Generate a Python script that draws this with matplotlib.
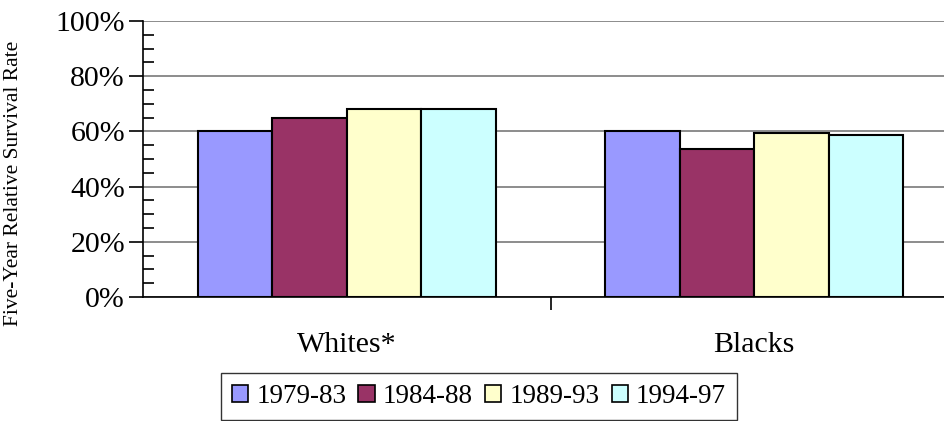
import matplotlib
matplotlib.use("Agg")
import matplotlib.pyplot as plt
import numpy as np

groups = ["Whites*", "Blacks"]
periods = ["1979-83", "1984-88", "1989-93", "1994-97"]
whites = [60.0, 64.8, 68.1, 68.1]
blacks = [60.0, 53.5, 59.3, 58.7]
colors = ["#9999FF", "#993366", "#FFFFCC", "#CCFFFF"]


def main():
    plt.rcParams['font.family'] = ['Liberation Serif', 'DejaVu Serif']

    fig = plt.figure(figsize=(9.45, 4.21), dpi=100)
    ax = fig.add_axes([143 / 945, 124 / 421, 815 / 945, 276 / 421])

    values = np.array([whites, blacks])
    x = np.arange(len(groups))
    width = 0.183

    # grid lines first so the bars cover them
    ax.set_axisbelow(True)
    ax.yaxis.grid(True, color="#6e6e6e", linewidth=1.1)

    for i in range(len(periods)):
        ax.bar(x + (i - 1.5) * width, values[:, i], width,
               color=colors[i], edgecolor="black", linewidth=1.5,
               label=periods[i])

    ax.set_xlim(-0.5, 1.5)
    ax.set_ylim(0, 100)
    ax.set_yticks(np.arange(0, 101, 20))
    ax.set_yticklabels(["%d%%" % v for v in range(0, 101, 20)])
    ax.set_yticks(np.arange(0, 101, 5), minor=True)
    ax.tick_params(axis="y", which="major", direction="out", length=10,
                   width=1.2, labelsize=21.5, pad=3)
    ax.tick_params(axis="y", which="minor", direction="in", length=8,
                   width=1.2)

    # category labels, boundary tick between them
    ax.set_xticks([0.5])
    ax.set_xticklabels([""])
    ax.tick_params(axis="x", direction="out", length=9, width=1.2)
    for xi, name in zip(x, groups):
        ax.text(xi, -17.5, name, ha="center", va="center", fontsize=21.5,
                transform=ax.transData)

    ax.spines["top"].set_visible(False)
    ax.spines["right"].set_visible(False)
    ax.spines["left"].set_linewidth(1.2)
    ax.spines["bottom"].set_linewidth(1.2)

    fig.text(14 / 945, 1 - 183 / 421, "Five-Year Relative Survival Rate",
             rotation=90, ha="center", va="center", fontsize=15.5)

    leg = fig.legend(loc="upper left", bbox_to_anchor=(221 / 945, 1 - 373 / 421),
                     ncol=4, fontsize=19.5, frameon=True, fancybox=False,
                     edgecolor="black", handlelength=0.6, handleheight=0.6,
                     handletextpad=0.3, columnspacing=0.45, borderpad=0.4,
                     borderaxespad=0)
    leg.get_frame().set_linewidth(1.0)
    for h in leg.legend_handles:
        h.set_linewidth(1.2)

    plt.savefig("out.png", dpi=100)


if __name__ == "__main__":
    main()
